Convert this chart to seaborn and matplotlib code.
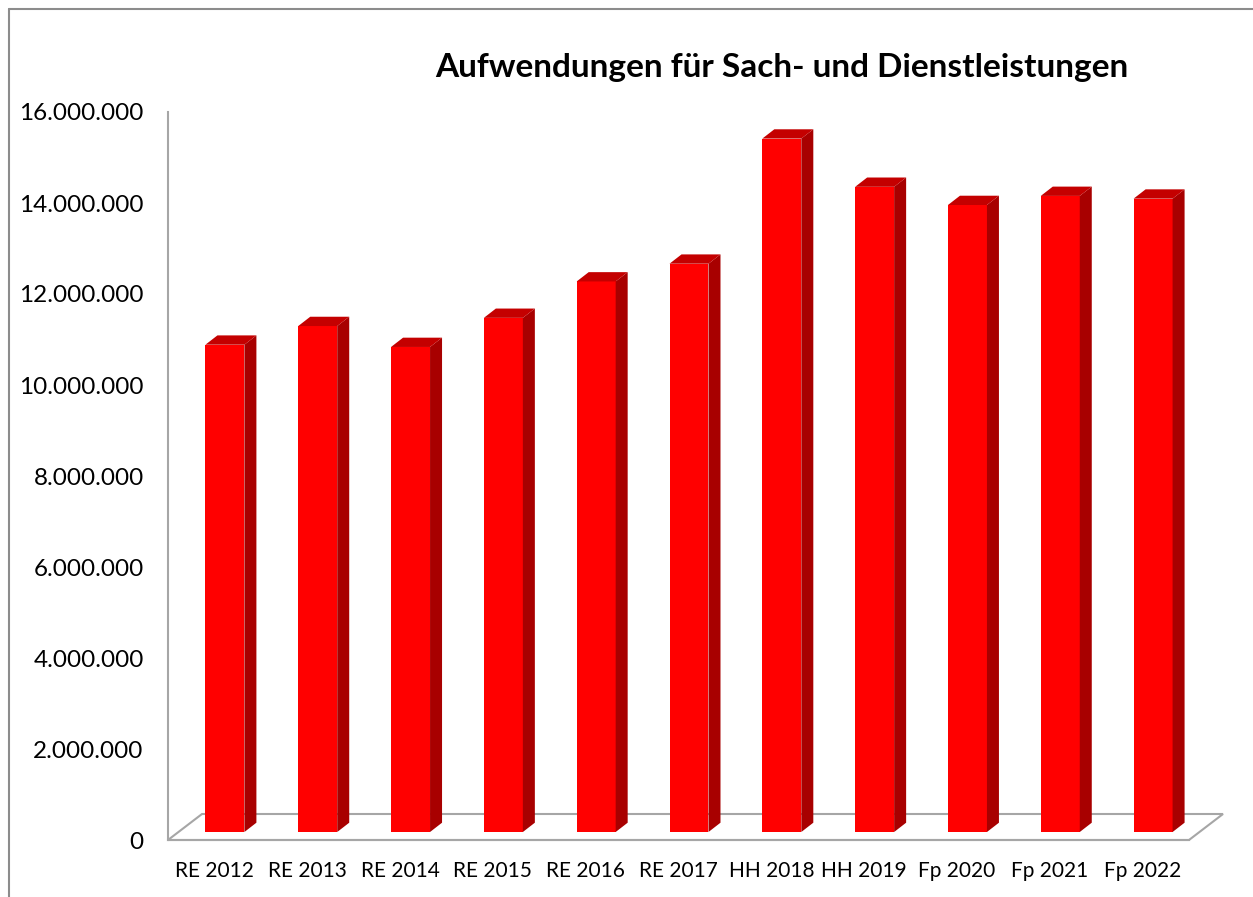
import matplotlib
matplotlib.use("Agg")
import matplotlib.pyplot as plt
import matplotlib.transforms as mtransforms
from matplotlib.patches import Polygon
from matplotlib.lines import Line2D
from matplotlib.ticker import FuncFormatter, FixedLocator
import seaborn as sns
import pandas as pd
import numpy as np

# ---- data ----
categories = ["RE 2012", "RE 2013", "RE 2014", "RE 2015", "RE 2016", "RE 2017",
              "HH 2018", "HH 2019", "Fp 2020", "Fp 2021", "Fp 2022"]
values = [10_710_000, 11_120_000, 10_660_000, 11_300_000, 12_100_000, 12_490_000,
          15_240_000, 14_180_000, 13_780_000, 13_980_000, 13_920_000]
y_ticks = [0, 2_000_000, 4_000_000, 6_000_000, 8_000_000, 10_000_000,
           12_000_000, 14_000_000, 16_000_000]
title = "Aufwendungen für Sach- und Dienstleistungen"

df = pd.DataFrame({"Jahr": categories, "Wert": values})

W, H, DPI = 1253, 897, 100
sns.set_theme(style="white")
plt.rcParams["font.family"] = ["Lato", "DejaVu Sans"]

fig = plt.figure(figsize=(W / DPI, H / DPI), dpi=DPI)
fig.patch.set_facecolor("white")
ax_l, ax_r, ax_t, ax_b = 168, 1189, 112, 840
ax = fig.add_axes([ax_l / W, (H - ax_b) / H, (ax_r - ax_l) / W, (ax_b - ax_t) / H])
ax.set_facecolor("none")

FRONT = "#FF0000"
SIDE = "#A80000"
TOP = "#C40000"
GRAY = "#A6A6A6"

sns.barplot(data=df, x="Jahr", y="Wert", color=FRONT, saturation=1, width=0.42,
            ax=ax, zorder=3, edgecolor="none", linewidth=0)

ax.set_xlim(-0.5, len(categories) - 0.5)
ax.set_ylim(0, y_ticks[-1])
ax.set_xlabel("")
ax.set_ylabel("")

# y axis
ax.yaxis.set_major_locator(FixedLocator(y_ticks))
ax.yaxis.set_major_formatter(FuncFormatter(lambda v, p: f"{int(round(v)):,}".replace(",", ".")))
ax.tick_params(axis="y", direction="out", length=5.5, width=1.5, color=GRAY,
               pad=12, labelsize=17.5, labelcolor="black")
# x axis: ticks at category boundaries, labels at centers
n = len(categories)
ax.xaxis.set_major_locator(FixedLocator(np.arange(-0.5, n, 1.0)))
ax.xaxis.set_major_formatter(FuncFormatter(lambda v, p: ""))
ax.xaxis.set_minor_locator(FixedLocator(np.arange(0, n, 1.0)))
ax.set_xticklabels(categories, minor=True)
ax.tick_params(axis="x", which="major", direction="out", length=4.5, width=1.5, color=GRAY)
ax.tick_params(axis="x", which="minor", length=0, pad=15, labelsize=15, labelcolor="black")

for s in ["top", "right"]:
    ax.spines[s].set_visible(False)
for s in ["left", "bottom"]:
    ax.spines[s].set_color(GRAY)
    ax.spines[s].set_linewidth(1.5)
    ax.spines[s].set_zorder(2)

# ---- 3D look ----
fig.canvas.draw()
to_disp = ax.transData.transform
ident = mtransforms.IdentityTransform()

floor_dx, floor_dy = 34, 26
front_dx, front_dy = 10.5, 8
depth_dx, depth_dy = 12, 9.3

bar_patches = list(ax.patches)

# floor
x0d, y0d = to_disp((-0.5, 0))
x1d, _ = to_disp((n - 0.5, 0))
floor = Polygon([(x0d, y0d), (x1d, y0d), (x1d + floor_dx, y0d + floor_dy),
                 (x0d + floor_dx, y0d + floor_dy)], closed=True,
                facecolor="white", edgecolor=GRAY, linewidth=1.5,
                transform=ident, clip_on=False, zorder=1)
ax.add_patch(floor)

offset = mtransforms.ScaledTranslation(front_dx / DPI, front_dy / DPI, fig.dpi_scale_trans)
for p in bar_patches:
    x, w, h = p.get_x(), p.get_width(), p.get_height()
    (xl, yb) = to_disp((x, 0))
    (xr, yt) = to_disp((x + w, h))
    xl += front_dx; xr += front_dx; yb += front_dy; yt += front_dy
    p.set_transform(ax.transData + offset)
    p.set_clip_on(False)
    side = Polygon([(xr, yb), (xr, yt), (xr + depth_dx, yt + depth_dy), (xr + depth_dx, yb + depth_dy)],
                   closed=True, facecolor=SIDE, edgecolor="none", transform=ident,
                   clip_on=False, zorder=3)
    top = Polygon([(xl, yt), (xr, yt), (xr + depth_dx, yt + depth_dy), (xl + depth_dx, yt + depth_dy)],
                  closed=True, facecolor=TOP, edgecolor="none", transform=ident,
                  clip_on=False, zorder=3)
    ax.add_patch(side)
    ax.add_patch(top)

# title
fig.text(782 / W, (H - 77) / H, title, ha="center", va="baseline",
         fontsize=24, fontweight="bold", color="black")

# chart border (top and left)
fig.add_artist(Line2D([9 / W, 1], [(H - 9) / H] * 2, color="#8C8C8C", linewidth=1.5,
                      transform=fig.transFigure))
fig.add_artist(Line2D([9 / W] * 2, [0, (H - 9) / H], color="#8C8C8C", linewidth=1.5,
                      transform=fig.transFigure))

fig.savefig("out.png", dpi=DPI, facecolor="white")
